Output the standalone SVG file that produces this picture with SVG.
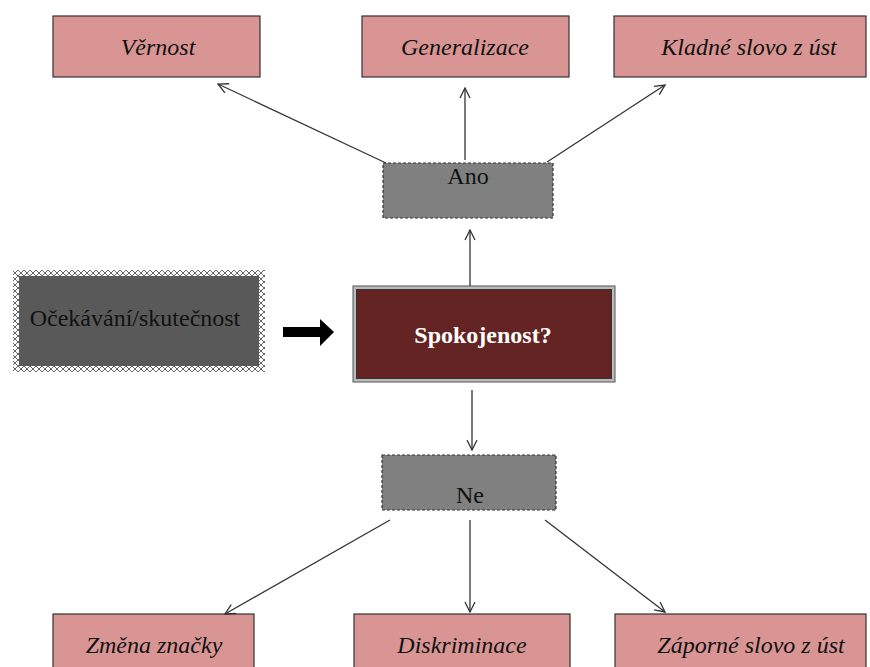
<svg xmlns="http://www.w3.org/2000/svg" width="870" height="667" viewBox="0 0 870 667">
<defs>
<marker id="ah" viewBox="0 0 12 12" refX="11" refY="6" markerWidth="12" markerHeight="12" markerUnits="userSpaceOnUse" orient="auto">
<path d="M1,1 L11,6 L1,11" fill="none" stroke="#333" stroke-width="1.3"/>
</marker>
<pattern id="zz" width="6" height="6" patternUnits="userSpaceOnUse">
<rect width="6" height="6" fill="#fff"/>
<path d="M0,0 L6,6 M6,0 L0,6" stroke="#555" stroke-width="0.9"/>
</pattern>
</defs>
<style>
.pink{fill:#D99594;stroke:#333;stroke-width:1.2}
.gray{fill:#808080;stroke:#333;stroke-width:1.2;stroke-dasharray:3 2}
.t{font-family:"Liberation Serif","DejaVu Serif",serif;font-size:24px;fill:#111;text-anchor:middle}
.i{font-style:italic}
.c{stroke:#333;stroke-width:1.3;fill:none;marker-end:url(#ah)}
</style>
<rect width="870" height="667" fill="#fff"/>
<g id="vernost"><rect class="pink" x="53" y="16" width="207" height="61"/><text class="t i" x="158" y="55">Věrnost</text></g>
<g id="generalizace"><rect class="pink" x="362" y="16" width="207" height="61"/><text class="t i" x="465" y="55">Generalizace</text></g>
<g id="kladne"><rect class="pink" x="614" y="16" width="252" height="61"/><text class="t i" x="749" y="55">Kladné slovo z úst</text></g>
<g id="ano"><rect class="gray" x="383" y="163" width="170" height="55"/><text class="t" x="468" y="184">Ano</text></g>
<g id="ocekavani"><rect x="16" y="273" width="246" height="96" fill="#595959" stroke="url(#zz)" stroke-width="6"/><text class="t" x="135" y="326">Očekávání/skutečnost</text></g>
<g id="blackarrow"><path d="M283,327 L320,327 L320,319 L334,332 L320,346 L320,337 L283,337 Z" fill="#000"/></g>
<g id="spokojenost"><rect x="353" y="286" width="262" height="96" fill="#bbb" stroke="#555" stroke-width="1"/><rect x="356.5" y="289.5" width="255" height="89" fill="#632423" stroke="#333" stroke-width="1"/><text class="t" x="483" y="343" style="fill:#fff;font-weight:bold">Spokojenost?</text></g>
<g id="ne"><rect class="gray" x="382" y="455" width="174" height="55"/><text class="t" x="470" y="503">Ne</text></g>
<g id="zmena"><rect class="pink" x="53" y="614" width="201" height="60"/><text class="t i" x="154" y="653">Změna značky</text></g>
<g id="diskriminace"><rect class="pink" x="354" y="614" width="216" height="60"/><text class="t i" x="462" y="653">Diskriminace</text></g>
<g id="zaporne"><rect class="pink" x="615" y="614" width="251" height="60"/><text class="t i" x="751" y="653">Záporné slovo z úst</text></g>
<g id="connectors">
<line class="c" x1="386" y1="163" x2="218" y2="84"/>
<line class="c" x1="465" y1="160" x2="465" y2="88"/>
<line class="c" x1="547" y1="162" x2="665" y2="85"/>
<line class="c" x1="470" y1="286" x2="470" y2="230"/>
<line class="c" x1="472" y1="390" x2="472" y2="450"/>
<line class="c" x1="390" y1="520" x2="225" y2="614"/>
<line class="c" x1="470" y1="520" x2="470" y2="612"/>
<line class="c" x1="545" y1="520" x2="665" y2="612"/>
</g>
</svg>
